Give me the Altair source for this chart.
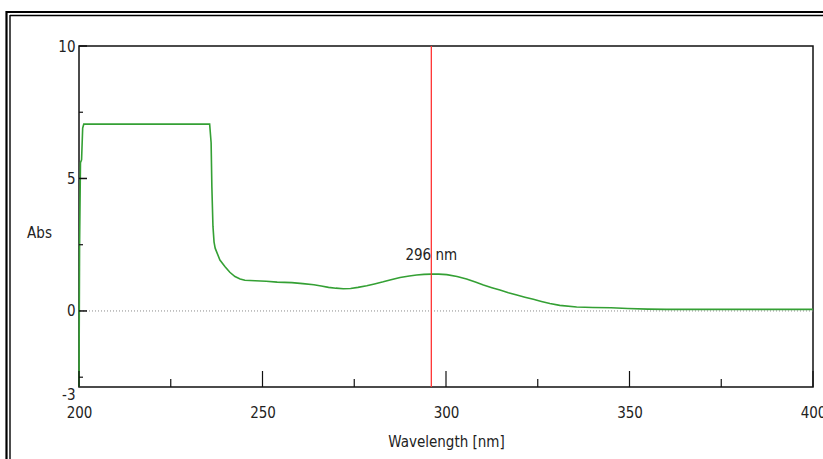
import altair as alt
import pandas as pd

# Spectrum
wavelength = [200.0, 200.15, 200.4, 200.7, 201.0, 201.3, 210, 220, 230, 235.6,
              236.0, 236.2, 236.5, 236.8, 237.1, 238.4, 239.8, 241.1, 242.5, 243.9,
              245.2, 248, 251, 254, 258, 261, 264, 266, 268, 270, 272, 274, 276,
              278.4, 280.5, 282.9, 285, 287.5, 290, 292, 294, 296, 298, 300.2, 303,
              305.6, 308, 310.2, 312.5, 314.7, 317, 319.3, 321.5, 323.8, 326, 328.3,
              331, 335.6, 340, 345, 349.5, 355, 360, 370, 380, 390, 400]
absorbance = [-2.87, 2.4, 5.6, 5.7, 6.9, 7.05, 7.05, 7.05, 7.05, 7.05,
              6.35, 4.7, 3.2, 2.6, 2.37, 1.92, 1.67, 1.46, 1.30, 1.21,
              1.16, 1.14, 1.12, 1.09, 1.07, 1.03, 0.99, 0.94, 0.89, 0.86, 0.84, 0.85, 0.89,
              0.95, 1.02, 1.10, 1.18, 1.26, 1.32, 1.36, 1.38, 1.39, 1.39, 1.37, 1.30,
              1.21, 1.09, 0.98, 0.88, 0.79, 0.69, 0.60, 0.52, 0.44, 0.36, 0.28,
              0.21, 0.15, 0.13, 0.12, 0.09, 0.07, 0.06, 0.06, 0.06, 0.06, 0.06]

peak_wl = [296]
peak_abs = [1.39]
peak_label = ["296 nm"]

x_major = [200, 250, 300, 350, 400]
x_minor = [225, 275, 325, 375]
y_major = [0, 5, 10]
y_minor = [-2.5, 2.5, 7.5]
y_labels = [-2.87, 0, 5, 10]

FONT = "DejaVu Sans Condensed, Liberation Sans Narrow, sans-serif"
FS = 15
TXT = "#222222"
W, H = 734, 341
YMIN, YMAX = -2.87, 10

spec = pd.DataFrame({"wl": wavelength, "abs": absorbance})
peak = pd.DataFrame({"wl": peak_wl, "abs": peak_abs, "label": peak_label})

xscale = alt.Scale(domain=[200, 400], nice=False, zero=False)
yscale = alt.Scale(domain=[YMIN, YMAX], nice=False, zero=False)

xaxis = alt.Axis(values=x_major, title="Wavelength [nm]", grid=False, domain=False,
                 ticks=False, labelFont=FONT, labelFontSize=FS, labelColor=TXT,
                 labelBaseline="middle", labelPadding=25, labelFlush=False,
                 titleFont=FONT, titleFontSize=FS, titleFontWeight="normal",
                 titleColor=TXT, titleY=54, titleBaseline="middle")
yaxis = alt.Axis(values=y_labels, title="Abs", grid=False, domain=False, ticks=False,
                 labelFont=FONT, labelFontSize=FS, labelColor=TXT,
                 labelAlign="right", labelPadding=4,
                 labelBaseline={"condition": {"test": "datum.value < -2", "value": "top"},
                                "value": "middle"},
                 labelExpr="datum.value < -2 ? '-3' : datum.label",
                 titleFont=FONT, titleFontSize=FS, titleFontWeight="normal",
                 titleColor=TXT, titleAngle=0, titleX=-40, titleY=186,
                 titleAlign="center", titleBaseline="middle")

zero = alt.Chart(pd.DataFrame({"v": [0]})).mark_rule(
    color="#8a8a8a", strokeDash=[1, 2], strokeWidth=1
).encode(y=alt.Y("v:Q", scale=yscale, axis=yaxis))

line = alt.Chart(spec).mark_line(color="#34a034", strokeWidth=1.6).encode(
    x=alt.X("wl:Q", scale=xscale, axis=xaxis),
    y=alt.Y("abs:Q", scale=yscale),
)

marker = alt.Chart(peak).mark_rule(color="#ff3333", strokeWidth=1.3).encode(
    x=alt.X("wl:Q", scale=xscale)
)
label = alt.Chart(peak).mark_text(
    font=FONT, fontSize=FS, color=TXT, baseline="middle", align="center", dy=-19
).encode(x=alt.X("wl:Q", scale=xscale), y=alt.Y("abs:Q", scale=yscale), text="label:N")

ytm = alt.Chart(pd.DataFrame({"v": y_major})).mark_rule(color="#111111", strokeWidth=1.5).encode(
    y=alt.Y("v:Q", scale=yscale), x=alt.value(0), x2=alt.value(8))
ytn = alt.Chart(pd.DataFrame({"v": y_minor})).mark_rule(color="#111111", strokeWidth=1.2).encode(
    y=alt.Y("v:Q", scale=yscale), x=alt.value(0), x2=alt.value(4))
xtm = alt.Chart(pd.DataFrame({"v": x_major})).mark_rule(color="#111111", strokeWidth=1.2).encode(
    x=alt.X("v:Q", scale=xscale), y=alt.value(H), y2=alt.value(H - 16))
xtn = alt.Chart(pd.DataFrame({"v": x_minor})).mark_rule(color="#111111", strokeWidth=1.2).encode(
    x=alt.X("v:Q", scale=xscale), y=alt.value(H), y2=alt.value(H - 8))

# window frame (double lines at top and left)
top1 = alt.Chart(pd.DataFrame({"a": [0]})).mark_rule(color="black", strokeWidth=2.2).encode(
    x=alt.value(-73), x2=alt.value(760), y=alt.value(-34))
top2 = alt.Chart(pd.DataFrame({"a": [0]})).mark_rule(color="black", strokeWidth=1.4).encode(
    x=alt.value(-69), x2=alt.value(760), y=alt.value(-30.5))
left1 = alt.Chart(pd.DataFrame({"a": [0]})).mark_rule(color="black", strokeWidth=2.2).encode(
    x=alt.value(-72.5), y=alt.value(-35), y2=alt.value(420))
left2 = alt.Chart(pd.DataFrame({"a": [0]})).mark_rule(color="black", strokeWidth=1.4).encode(
    x=alt.value(-69), y=alt.value(-31), y2=alt.value(420))

chart = alt.layer(zero, line, marker, label, ytm, ytn, xtm, xtn, top1, top2, left1, left2).properties(
    width=W, height=H,
    padding={"left": 79, "top": 46, "right": 10, "bottom": 72},
    autosize=alt.AutoSizeParams(type="none"),
    background="white",
).configure_view(stroke="#111111", strokeWidth=1.5)

chart.save("out.html", embed_options={"renderer": "svg", "actions": False})
